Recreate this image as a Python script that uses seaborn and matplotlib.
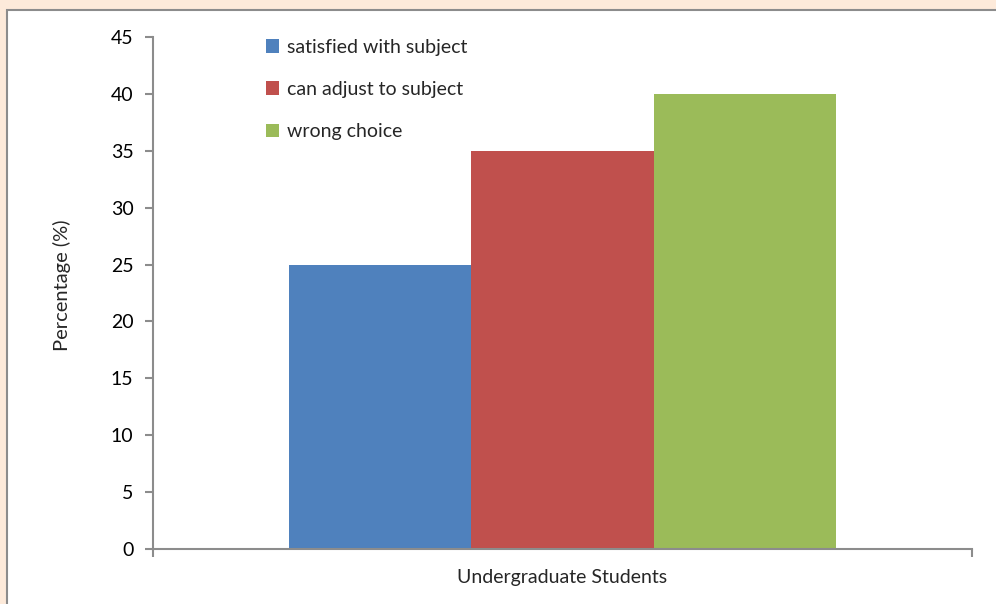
import matplotlib
matplotlib.use("Agg")
import matplotlib.pyplot as plt
from matplotlib.patches import Rectangle
import seaborn as sns
import pandas as pd

categories = ["Undergraduate Students"]
series = ["satisfied with subject", "can adjust to subject", "wrong choice"]
values = [25, 35, 40]
colors = ["#4F81BD", "#C0504D", "#9BBB59"]
yticks = [0, 5, 10, 15, 20, 25, 30, 35, 40, 45]

df = pd.DataFrame({
    "group": categories * len(series),
    "series": series,
    "value": values,
})

sns.set_style("white")
plt.rcParams["font.family"] = ["Lato", "DejaVu Sans"]

W, H = 996, 604
fig = plt.figure(figsize=(W / 100, H / 100), dpi=100, facecolor="#FDEADA")

# white chart panel with grey frame, running off the right and bottom edges
panel = Rectangle((7 / W, -0.1), 1.2, 1.1 - 10 / H, transform=fig.transFigure,
                  facecolor="white", edgecolor="#8C8C8C", linewidth=1.5, zorder=-5)
fig.patches.append(panel)

ax = fig.add_axes([153 / W, 1 - 549 / H, (972 - 153) / W, (549 - 37) / H])
ax.set_facecolor("none")

sns.barplot(data=df, x="group", y="value", hue="series", hue_order=series,
            palette=colors, width=0.667, saturation=1, gap=0, ax=ax,
            edgecolor="none", linewidth=0, legend=True)

ax.set_xlim(-0.5, 0.5)
ax.set_ylim(0, 45)
ax.set_yticks(yticks)
ax.set_yticklabels([str(t) for t in yticks], fontsize=14, color="#000000")
ax.set_xticks([-0.5, 0.5])
ax.set_xticklabels(["", ""])
ax.tick_params(axis="y", direction="out", length=6, width=1.5, color="#8C8C8C", pad=8, left=True)
ax.tick_params(axis="x", direction="out", length=6, width=1.5, color="#8C8C8C", bottom=True)

for side in ["top", "right"]:
    ax.spines[side].set_visible(False)
for side in ["left", "bottom"]:
    ax.spines[side].set_color("#8C8C8C")
    ax.spines[side].set_linewidth(1.5)

ax.set_xlabel("")
ax.set_ylabel("Percentage (%)", fontsize=14.5)
ax.yaxis.set_label_coords(-0.1, 0.516)
ax.text(0.5, -0.055, categories[0], transform=ax.transAxes, ha="center", va="center", fontsize=14)

handles, labels = ax.get_legend_handles_labels()
ax.legend(handles, labels, loc="upper left", bbox_to_anchor=(0.128, 1.012), frameon=False,
          fontsize=14, handlelength=0.7, handleheight=0.7, handletextpad=0.4,
          labelspacing=1.3, borderaxespad=0)

fig.savefig("out.png", dpi=100, facecolor=fig.get_facecolor())
